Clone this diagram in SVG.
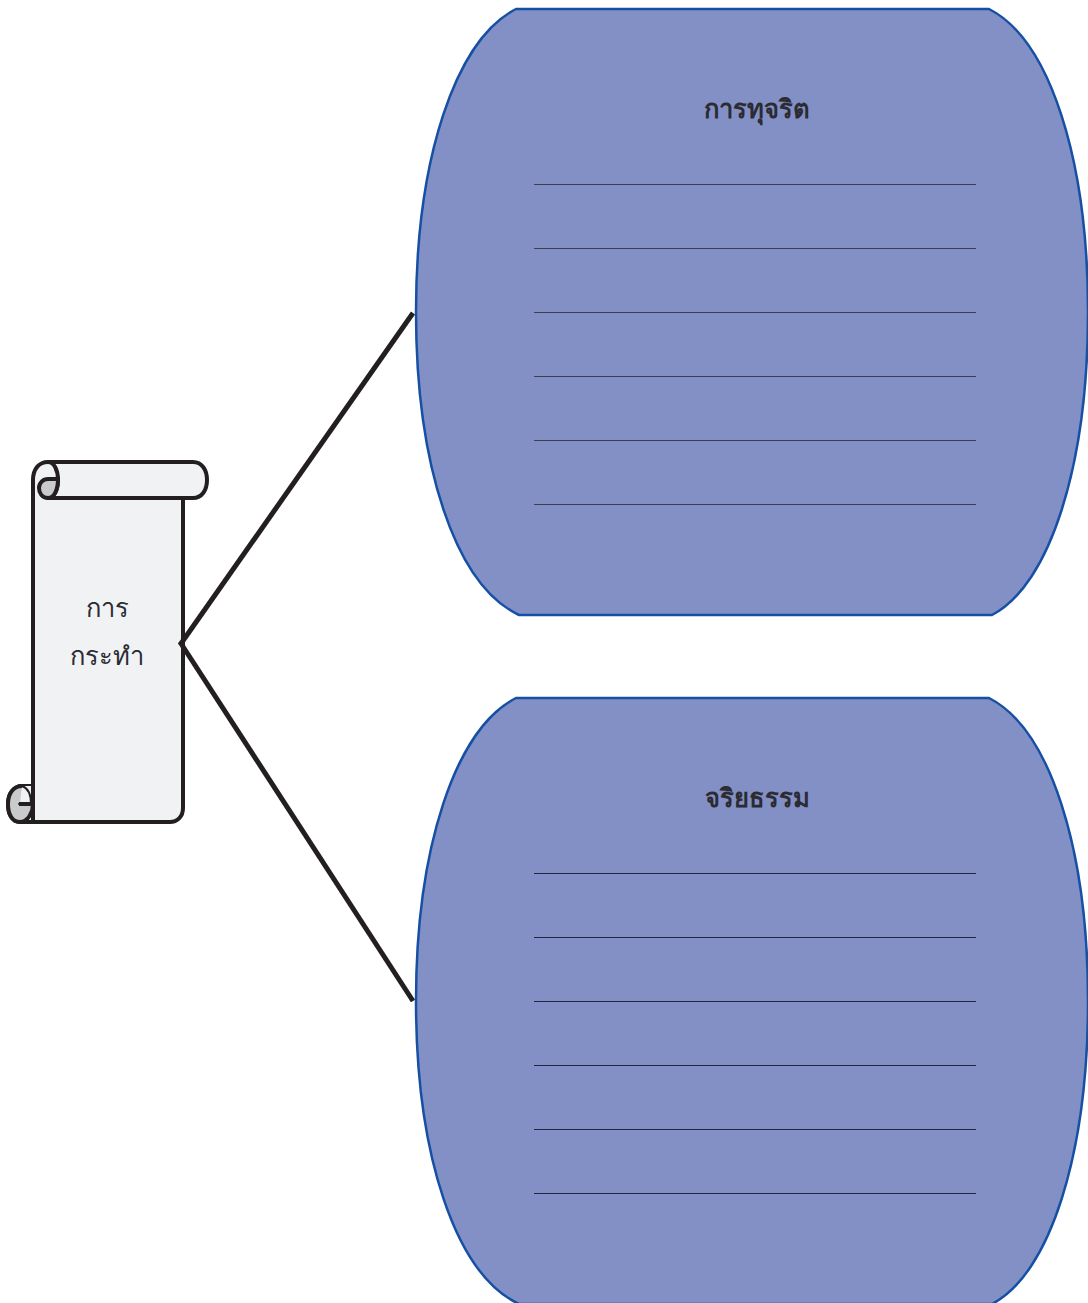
<svg xmlns="http://www.w3.org/2000/svg" width="1088" height="1303" viewBox="0 0 1088 1303">
<style>
.blob{fill:#8390c6;stroke:#1650a4;stroke-width:2.500}
.rule{stroke:#3d3f50;stroke-width:1;fill:none}
.rule2{stroke:#1f2440;stroke-width:1;fill:none}
.scroll{fill:#f1f2f4;stroke:#231f20;stroke-width:4;stroke-linejoin:round}
.curl{fill:#c9cacc;stroke:#231f20;stroke-width:4}
.conn{stroke:#231f20;stroke-width:5;fill:none}
text{font-family:"Noto Sans","DejaVu Sans",sans-serif;fill:#2b2b33;text-anchor:middle}
.t{font-size:25.500px;font-weight:600}
.s{font-size:25.500px;font-weight:500}
</style>
<g id="scroll">
<path class="scroll" d="M33 800V480C33 469 39 462 48 462H193C202 462 207 470 207 480C207 490 202 498 193 498H183V808C183 817 177 822 170 822H20C12 822 8 814 8 804C8 793 14 786 22 786H33"/>
<path class="scroll" d="M48 462C54 462 58 470 58 480C58 490 54 498 48 498H193" style="fill:none"/>
<path class="curl" d="M48 498C42 498 39 493 39 488C39 483 43 479 48 479H58C58 490 54 498 48 498Z"/>
<path class="curl" d="M22 786C14 786 8 793 8 804C8 814 12 822 20 822C28 822 33 812 33 804H22C20 804 20 803 20 803" style="stroke-linejoin:round"/>
<path d="M22 786H33V804H22" fill="#f1f2f4" stroke="none"/>
<path d="M22 786C28 788 31 794 31 804" fill="none" stroke="#231f20" stroke-width="2"/>
<path d="M19 804H33M33 786V822" fill="none" stroke="#231f20" stroke-width="4"/>
<text class="s" x="107" y="617">การ</text>
<text class="s" x="107" y="665">กระทำ</text>
</g>
<g id="box-top">
<path class="blob" d="M516 9H989C1050 40 1088 160 1088 312C1088 465 1050 585 992 615H519C455 585 416 465 416 312C416 160 455 40 516 9Z"/>
<text class="t" x="757" y="118">การทุจริต</text>
<path class="rule" d="M534 184.500H976M534 248.500H976M534 312.500H976M534 376.500H976M534 440.500H976M534 504.500H976"/>
</g>
<g id="box-bottom">
<path class="blob" d="M516 698H989C1050 729 1088 849 1088 1001C1088 1154 1050 1274 992 1304H519C455 1274 416 1154 416 1001C416 849 455 729 516 698Z"/>
<text class="t" x="757" y="807">จริยธรรม</text>
<path class="rule2" d="M534 873.500H976M534 937.500H976M534 1001.500H976M534 1065.500H976M534 1129.500H976M534 1193.500H976"/>
</g>
<g id="connectors">
<path class="conn" d="M180 645L413 313"/>
<path class="conn" d="M180 642L413 1001"/>
</g>
</svg>
